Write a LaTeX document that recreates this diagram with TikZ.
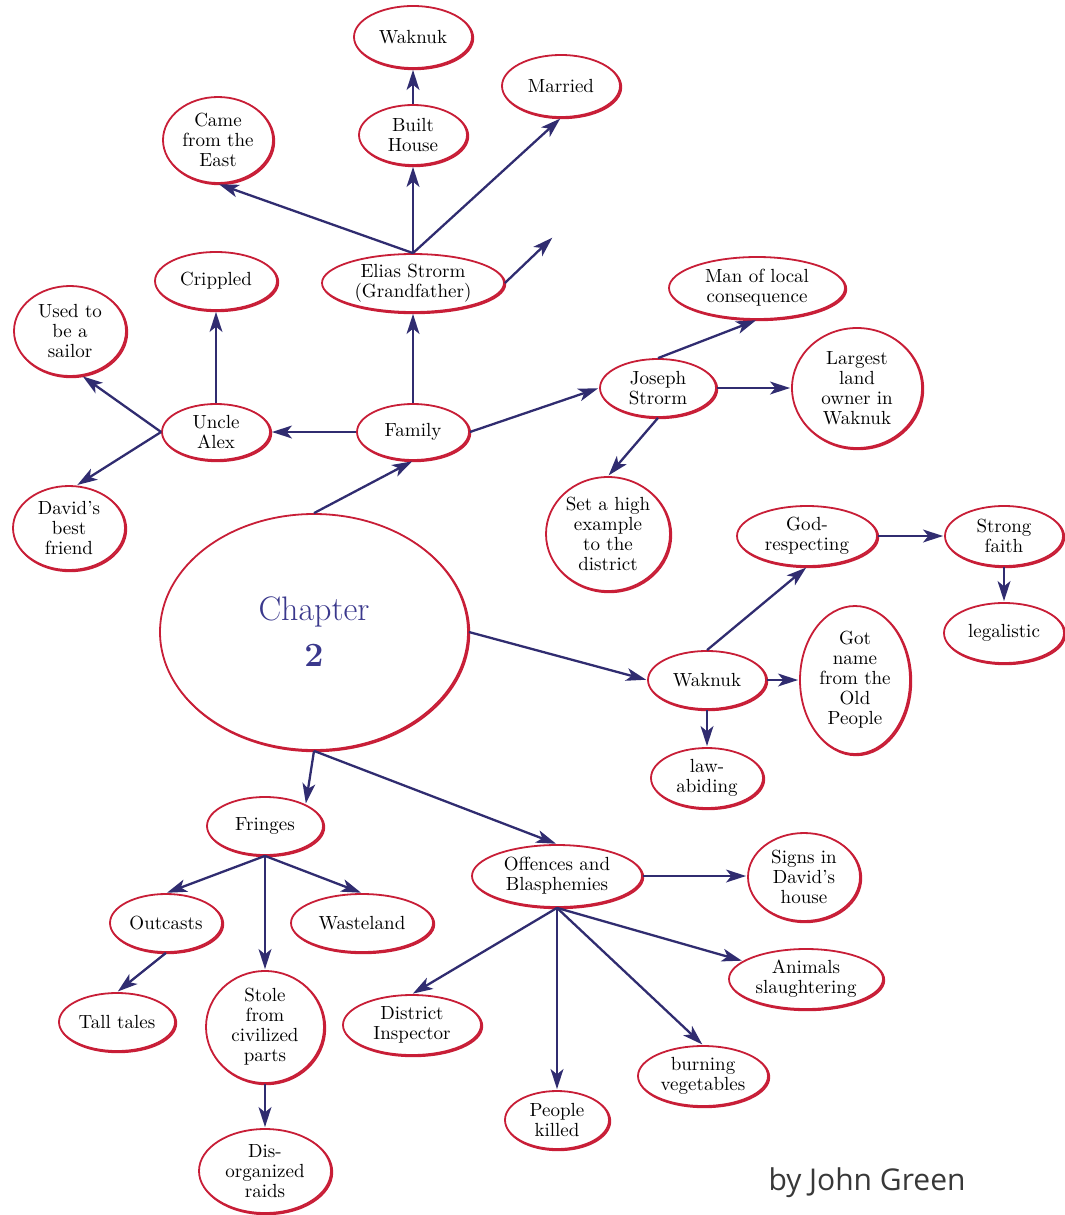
\documentclass[tikz,border=0pt]{standalone}
\usepackage{fontspec}
\newfontfamily\signfont{Open Sans}
\usetikzlibrary{arrows.meta,shapes.geometric,shadows}
\definecolor{ellred}{RGB}{200,30,55}
\definecolor{arrblue}{RGB}{48,44,112}
\definecolor{chapblue}{RGB}{58,56,140}
\tikzstyle{idea}=[ellipse,draw=ellred,fill=white,line width=0.9pt,inner sep=0pt,align=center,
  font=\fontsize{9.5}{10}\selectfont,
  general shadow={shadow xshift=0.6pt,shadow yshift=-0.6pt,draw=ellred,line width=1pt}]
\tikzstyle{arr}=[-{Stealth[length=10pt,width=6.4pt,inset=2.6pt]},draw=arrblue,line width=1.15pt,shorten >=0.5pt]
\tikzset{sz/.style 2 args={minimum width=#1pt,minimum height=#2pt}}

\begin{document}
\begin{tikzpicture}[x=0.5pt,y=-0.5pt]
  \useasboundingbox (0,0) rectangle (1065,1215);
  % centre
  \node[idea,sz={154}{118},font=\fontsize{17}{23}\selectfont,text=chapblue] (chapter) at (314,632) {Chapter\\ \textbf{2}};
  % family branch
  \node[idea,sz={56}{28}] (family) at (413,432) {Family};
  \node[idea,sz={91}{29}] (elias) at (413,283) {Elias Strorm\\(Grandfather)};
  \node[idea,sz={55}{43}] (came) at (218,140) {Came\\from the\\East};
  \node[idea,sz={54}{30}] (built) at (413,135) {Built\\House};
  \node[idea,sz={59}{31}] (waktop) at (413,37) {Waknuk};
  \node[idea,sz={59}{31}] (married) at (561,86) {Married};
  \coordinate (dangle) at (553,237);
  \node[idea,sz={54}{28}] (uncle) at (216,432) {Uncle\\Alex};
  \node[idea,sz={61}{29}] (crippled) at (216,281) {Crippled};
  \node[idea,sz={56}{45}] (sailor) at (70,331) {Used to\\be a\\sailor};
  \node[idea,sz={56}{42}] (davids) at (69,528) {David's\\best\\friend};
  \node[idea,sz={58}{29}] (joseph) at (658,388) {Joseph\\Strorm};
  \node[idea,sz={88}{31}] (man) at (757,288) {Man of local\\consequence};
  \node[idea,sz={65}{60}] (largest) at (857,388) {Largest\\land\\owner in\\Waknuk};
  \node[idea,sz={62}{57}] (sethigh) at (608,534) {Set a high\\example\\to the\\district};
  % waknuk branch
  \node[idea,sz={59}{29}] (waknuk) at (707,680) {Waknuk};
  \node[idea,sz={70}{30}] (god) at (807,536) {God-\\respecting};
  \node[idea,sz={59}{30}] (strong) at (1004,536) {Strong\\faith};
  \node[idea,sz={60}{30}] (legal) at (1004,633) {legalistic};
  \node[idea,sz={55}{74}] (gotname) at (855,680) {Got\\name\\from the\\Old\\People};
  \node[idea,sz={56}{30}] (lawab) at (707,778) {law-\\abiding};
  % fringes branch
  \node[idea,sz={58}{29}] (fringes) at (265,826) {Fringes};
  \node[idea,sz={56}{29}] (outcasts) at (166,923) {Outcasts};
  \node[idea,sz={71}{29}] (wasteland) at (362,923) {Wasteland};
  \node[idea,sz={58}{29}] (talltales) at (117,1022) {Tall tales};
  \node[idea,sz={59}{56}] (stole) at (265,1027) {Stole\\from\\civilized\\parts};
  \node[idea,sz={66}{42}] (disorg) at (265,1171) {Dis-\\organized\\raids};
  % offences branch
  \node[idea,sz={85}{31}] (offences) at (557,876) {Offences and\\Blasphemies};
  \node[idea,sz={56}{44}] (signs) at (804,877) {Signs in\\David's\\house};
  \node[idea,sz={69}{30}] (district) at (412,1025) {District\\Inspector};
  \node[idea,sz={77}{30}] (animals) at (806,979) {Animals\\slaughtering};
  \node[idea,sz={65}{30}] (burning) at (703,1076) {burning\\vegetables};
  \node[idea,sz={52}{29}] (people) at (557,1120) {People\\killed};
  \node[font=\signfont\fontsize{15}{17}\selectfont,text=black!78] (sign) at (867,1183) {by John Green};

  \draw[arr] (elias.north) -- (came.south);
  \draw[arr] (elias.north) -- (built.south);
  \draw[arr] (elias.north) -- (married.south);
  \draw[arr] (elias.east) -- (dangle);
  \draw[arr] (built.north) -- (waktop.south);
  \draw[arr] (family.north) -- (elias.south);
  \draw[arr] (family.west) -- (uncle.east);
  \draw[arr] (uncle.north) -- (crippled.south);
  \draw[arr] (uncle.west) -- (sailor.-75);
  \draw[arr] (uncle.west) -- (davids.80);
  \draw[arr] (chapter.north) -- (family.south);
  \draw[arr] (family.east) -- (joseph.west);
  \draw[arr] (joseph.north) -- (man.south);
  \draw[arr] (joseph.east) -- (largest.west);
  \draw[arr] (joseph.south) -- (sethigh.north);
  \draw[arr] (chapter.east) -- (waknuk.west);
  \draw[arr] (waknuk.north) -- (god.south);
  \draw[arr] (waknuk.east) -- (gotname.west);
  \draw[arr] (waknuk.south) -- (lawab.north);
  \draw[arr] (god.east) -- (strong.west);
  \draw[arr] (strong.south) -- (legal.north);
  \draw[arr] (chapter.south) -- (fringes.28);
  \draw[arr] (chapter.south) -- (offences.north);
  \draw[arr] (fringes.south) -- (outcasts.north);
  \draw[arr] (fringes.south) -- (stole.north);
  \draw[arr] (fringes.south) -- (wasteland.north);
  \draw[arr] (outcasts.south) -- (talltales.north);
  \draw[arr] (stole.south) -- (disorg.north);
  \draw[arr] (offences.east) -- (offences.east -| signs.west);
  \draw[arr] (offences.south) -- (district.north);
  \draw[arr] (offences.south) -- (people.north);
  \draw[arr] (offences.south) -- (burning.north);
  \draw[arr] (offences.south) -- (animals);
\end{tikzpicture}
\end{document}
